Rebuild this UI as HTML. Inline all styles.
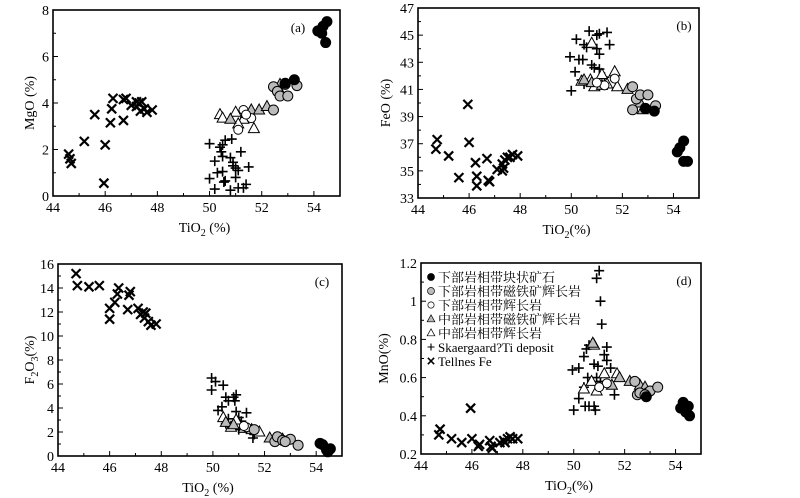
<!DOCTYPE html>
<html><head><meta charset="utf-8"><style>
html,body{margin:0;padding:0;background:#fff;}
svg{display:block;font-family:"Liberation Serif","Noto Serif CJK SC",serif;}
</style></head><body>
<svg id="chart" width="800" height="498" viewBox="0 0 800 498"></svg>
<script>
// ---- Panel (a) MgO ----
const aTellnes=[[44.6,1.8],[44.7,1.4],[44.65,1.6],[45.2,2.35],[45.6,3.5],[46,2.2],[45.95,0.55],[46.2,3.15],[46.25,3.75],[46.3,4.2],[46.7,3.25],[46.7,4.15],[46.8,4.2],[47,3.9],[47.2,3.85],[47.3,4.0],[47.4,4.05],[47.35,3.65],[47.5,3.75],[47.6,3.6],[47.8,3.7],[47.2,4.05]];
const aSkaer=[[50,2.25],[50.4,2.1],[50.5,2.2],[50.45,1.9],[50.6,2.4],[50.85,2.45],[50.2,1.5],[50.5,1.7],[50.8,1.65],[50.9,1.45],[51,1.2],[51.2,1.9],[51.5,1.25],[50.3,1.0],[50.5,1.05],[50.6,0.65],[50,0.75],[50.55,0.6],[51,0.8],[51.1,0.35],[51.3,0.35],[51.4,0.5],[50.2,0.3],[50.8,0.25],[51.1,1.1],[50.9,1.3]];
const aMidGab=[[50.4,3.5],[51,3.6],[51.3,3.3],[51.1,3.1],[51.7,2.9],[51.4,3.55],[50.5,3.35]];
const aMidMag=[[50.8,3.3],[51.6,3.7],[51.9,3.7],[52.2,3.85],[52.7,4.8],[52.7,4.5]];
const aLowGab=[[51.3,3.7],[51.1,2.85],[51.6,3.35],[51.4,3.5]];
const aLowMag=[[52.45,3.7],[52.45,4.7],[52.6,4.5],[52.7,4.3],[53,4.3],[53.35,4.75],[52.9,4.8]];
const aOre=[[52.9,4.85],[53.25,5.0],[54.15,7.1],[54.3,7.0],[54.35,7.3],[54.5,7.5],[54.45,6.6]];
const aYTicks=[0,2,4,6,8];
// ---- Panel (b) FeO ----
const bTellnes=[[44.7,36.6],[44.75,37.3],[45.2,36.1],[45.6,34.5],[45.95,39.9],[46,37.1],[46.25,35.6],[46.3,34.6],[46.3,33.9],[46.7,35.9],[46.75,34.3],[46.8,34.2],[47.1,35.1],[47.3,35.5],[47.35,35.2],[47.4,35.8],[47.5,36.0],[47.6,36.0],[47.7,36.2],[47.9,36.1],[47.3,35.0]];
const bSkaer=[[50.2,44.7],[50.7,45.3],[51,45],[51.1,45.1],[51.4,45.2],[51.5,44.3],[50.5,44.3],[50.6,44.1],[51,44],[51.1,43.6],[49.95,43.4],[50.3,43.2],[50.45,43.2],[50.8,42.8],[50.9,42.6],[50.15,42.3],[50,40.9],[50.4,41.7],[51.1,42.5],[51.3,41.9],[50.5,41.4]];
const bMidGab=[[50.8,44.4],[51.7,42.3],[50.4,41.6],[50.9,41.2],[51.2,42.1],[51.4,41.4],[51.8,41.2],[50.75,41.7]];
const bMidMag=[[50.5,41.7],[50.8,41.5],[51.2,41.3],[52.2,41],[52.7,40],[52.8,39.5]];
const bLowGab=[[51.7,41.8],[51.3,41.3],[51,41.5]];
const bLowMag=[[52.4,41.2],[52.55,40.3],[52.7,40.6],[53,40.6],[52.4,39.5],[53.3,39.8],[52.9,39.6]];
const bOre=[[52.9,39.6],[53.25,39.4],[54.15,36.4],[54.25,36.7],[54.4,37.2],[54.4,35.7],[54.55,35.7]];
const bYTicks=[33,35,37,39,41,43,45,47];
// ---- Panel (c) Fe2O3 ----
const cTellnes=[[44.7,15.2],[44.75,14.2],[45.2,14.1],[45.6,14.2],[46.0,11.4],[46.0,12.3],[46.2,12.8],[46.3,13.5],[46.35,14.0],[46.7,12.2],[46.75,13.4],[46.8,13.7],[47.1,12.3],[47.3,12.0],[47.35,11.5],[47.4,11.9],[47.5,11.2],[47.6,10.9],[47.8,11.0],[47.2,11.8]];
const cSkaer=[[49.95,6.5],[50.1,6.2],[50.4,5.9],[49.95,5.5],[50.5,4.9],[50.6,4.6],[50.8,4.9],[50.9,5.1],[50.85,4.6],[50.2,3.8],[50.35,4.1],[50.9,3.7],[51,3.2],[51.3,3.6],[50.6,3.1],[51.1,2.9],[51.6,1.8],[51.55,1.5],[50.5,2.7],[51,2.2]];
const cMidGab=[[50.4,3.2],[50.7,2.4],[51.0,2.7],[51.8,2.0],[50.9,3.0]];
const cMidMag=[[50.5,2.8],[50.8,2.6],[51.2,2.3],[51.5,2.2],[52.2,1.5],[52.7,1.4]];
const cLowGab=[[51.3,2.4],[51.2,2.5]];
const cLowMag=[[51.6,2.2],[52.4,1.2],[52.5,1.6],[52.7,1.3],[53,1.4],[53.3,0.9],[52.8,1.2]];
const cOre=[[54.15,1.05],[54.25,0.95],[54.4,0.5],[54.55,0.6],[54.45,0.35]];
const cYTicks=[0,2,4,6,8,10,12,14,16];
// ---- Panel (d) MnO ----
const dTellnes=[[44.7,0.3],[44.75,0.33],[45.2,0.28],[45.6,0.26],[45.95,0.44],[46,0.28],[46.25,0.24],[46.3,0.25],[46.7,0.27],[46.75,0.24],[46.8,0.23],[47.1,0.26],[47.3,0.26],[47.4,0.28],[47.5,0.29],[47.6,0.28],[47.8,0.28],[47.25,0.27]];
const dSkaer=[[50.9,1.12],[51,1.16],[51.05,1.0],[51.1,0.88],[50.5,0.75],[50.6,0.77],[51.3,0.76],[50.4,0.71],[51.2,0.72],[50.8,0.67],[50.95,0.66],[51.3,0.69],[49.95,0.64],[50.2,0.65],[51.45,0.65],[50.55,0.6],[50.4,0.55],[51.6,0.51],[50.2,0.49],[50,0.43],[50.45,0.45],[50.8,0.45],[50.85,0.43],[50.6,0.45],[50.9,0.6],[51.05,0.58]];
const dMidGab=[[50.8,0.77],[50.4,0.54],[50.9,0.53],[51.2,0.62],[51.7,0.62],[50.7,0.58]];
const dMidMag=[[50.75,0.78],[51.5,0.56],[51.8,0.6],[52.2,0.58],[52.6,0.56],[52.8,0.55]];
const dLowGab=[[51.3,0.57],[51.0,0.55]];
const dLowMag=[[52.4,0.58],[52.5,0.51],[52.6,0.52],[52.9,0.52],[53,0.53],[53.3,0.55],[52.8,0.51]];
const dOre=[[52.85,0.5],[54.2,0.44],[54.3,0.47],[54.4,0.42],[54.5,0.45],[54.55,0.4]];
const dYTicks=[0.2,0.4,0.6,0.8,1,1.2];
const xTicks=[44,46,48,50,52,54];
const legendLabels=["下部岩相带块状矿石","下部岩相带磁铁矿辉长岩","下部岩相带辉长岩","中部岩相带磁铁矿辉长岩","中部岩相带辉长岩","Skaergaard?Ti deposit","Tellnes Fe"];

const NS="http://www.w3.org/2000/svg";
const svg=document.getElementById('chart');
function mk(tag,attrs,parent){const e=document.createElementNS(NS,tag);for(const k in attrs)e.setAttribute(k,attrs[k]);(parent||svg).appendChild(e);return e;}

function marker(g,type,px,py){
  let e;
  if(type==='ore'){e=mk('circle',{cx:px,cy:py,r:5,fill:'#000',stroke:'#000','stroke-width':1},g);}
  else if(type==='lowMag'){e=mk('circle',{cx:px,cy:py,r:5,fill:'#bbb',stroke:'#000','stroke-width':1},g);}
  else if(type==='lowGab'){e=mk('circle',{cx:px,cy:py,r:4.5,fill:'#fff',stroke:'#000','stroke-width':1},g);}
  else if(type==='midMag'){e=mk('path',{d:`M${px},${py-6}L${px+5.5},${py+4}L${px-5.5},${py+4}Z`,fill:'#bbb',stroke:'#000','stroke-width':1},g);}
  else if(type==='midGab'){e=mk('path',{d:`M${px},${py-6}L${px+5.5},${py+4}L${px-5.5},${py+4}Z`,fill:'#fff',stroke:'#000','stroke-width':1},g);}
  else if(type==='skaer'){e=mk('path',{d:`M${px-5},${py}H${px+5}M${px},${py-5}V${py+5}`,stroke:'#000','stroke-width':1.6,fill:'none'},g);}
  else {e=mk('path',{d:`M${px-4.5},${py-4.5}L${px+4.5},${py+4.5}M${px+4.5},${py-4.5}L${px-4.5},${py+4.5}`,stroke:'#000','stroke-width':2.2,fill:'none'},g);}
  return e;
}

function panel(cfg){
  const g=mk('g',{});
  
  
  const {L,R,T,B,ymin,ymax}=cfg;
  const sx=v=>L+(v-44)/(55-44)*(R-L);
  const sy=v=>B-(v-ymin)/(ymax-ymin)*(B-T);
  for(let v=44;v<=55;v++){
    const major=xTicks.includes(v);
    const t=mk('line',{x1:sx(v),x2:sx(v),y1:B,y2:B-(major?5:3),stroke:'#000','stroke-width':1},g);
    
    
  }
  xTicks.forEach(v=>{
    const t=mk('text',{x:sx(v),y:B+16,'text-anchor':'middle','font-size':14},g);
    t.textContent=v;
    
    
  });
  const yt=cfg.yTicks;
  const step=yt[1]-yt[0];
  for(let i=0;i<yt.length;i++){
    const v=yt[i];
    const t=mk('line',{x1:L,x2:L+5,y1:sy(v),y2:sy(v),stroke:'#000','stroke-width':1},g);
    
    
    if(i<yt.length-1){const m=mk('line',{x1:L,x2:L+3,y1:sy(v+step/2),y2:sy(v+step/2),stroke:'#000','stroke-width':1},g);
      
      }
    const lb=mk('text',{x:L-4,y:sy(v)+5,'text-anchor':'end','font-size':14},g);
    lb.textContent=v;
    
    
  }
  const series=[['tellnes',cfg.tellnes],['skaer',cfg.skaer],['midGab',cfg.midGab],['midMag',cfg.midMag],['lowGab',cfg.lowGab],['lowMag',cfg.lowMag],['ore',cfg.ore]];
  series.forEach(([type,data])=>{
    data.forEach(p=>{
      const e=marker(g,type,sx(p[0]),sy(p[1]));
      
      
    });
  });
  const fr=mk('rect',{x:L,y:T,width:R-L,height:B-T,fill:'none',stroke:'#000','stroke-width':1.6},g);
  
  
  const pl=mk('text',{x:cfg.lx,y:T+22,'text-anchor':'middle','font-size':13},g);
  pl.textContent='('+cfg.id+')';
  
  
  const xt=mk('text',{x:(L+R)/2+8,y:B+36,'text-anchor':'middle','font-size':14},g);
  xt.innerHTML='TiO<tspan font-size="10" dy="4">2</tspan><tspan dy="-4">'+cfg.xsuffix+'</tspan>';
  
  
  const ytl=mk('text',{x:0,y:0,'text-anchor':'middle','font-size':14,transform:`translate(${cfg.ytx},${(T+B)/2}) rotate(-90)`},g);
  ytl.innerHTML=cfg.ytitle;
  
  
  return g;
}

panel({id:'a',lx:298,L:53,R:340,T:10,B:196,ymin:0,ymax:8,yTicks:aYTicks,tellnes:aTellnes,skaer:aSkaer,midGab:aMidGab,midMag:aMidMag,lowGab:aLowGab,lowMag:aLowMag,ore:aOre,xsuffix:' (%)',ytitle:'MgO (%)',ytx:34});
panel({id:'b',lx:684,L:418,R:699,T:8,B:198,ymin:33,ymax:47,yTicks:bYTicks,tellnes:bTellnes,skaer:bSkaer,midGab:bMidGab,midMag:bMidMag,lowGab:bLowGab,lowMag:bLowMag,ore:bOre,xsuffix:'(%)',ytitle:'FeO (%)',ytx:390});
panel({id:'c',lx:322,L:58,R:342,T:264,B:456,ymin:0,ymax:16,yTicks:cYTicks,tellnes:cTellnes,skaer:cSkaer,midGab:cMidGab,midMag:cMidMag,lowGab:cLowGab,lowMag:cLowMag,ore:cOre,xsuffix:' (%)',ytitle:'F<tspan font-size="10" dy="4">2</tspan><tspan dy="-4">O</tspan><tspan font-size="10" dy="4">3</tspan><tspan dy="-4">(%)</tspan>',ytx:34});
panel({id:'d',lx:684,L:421,R:701,T:263,B:454,ymin:0.2,ymax:1.2,yTicks:dYTicks,tellnes:dTellnes,skaer:dSkaer,midGab:dMidGab,midMag:dMidMag,lowGab:dLowGab,lowMag:dLowMag,ore:dOre,xsuffix:'(%)',ytitle:'MnO(%)',ytx:388});

const lg=mk('g',{});


const lgTypes=['ore','lowMag','lowGab','midMag','midGab','skaer','tellnes'];
legendLabels.forEach((lab,i)=>{
  const y=277+i*14;
  const g=mk('g',{},lg);
  
  
  const sc=mk('g',{transform:`translate(${431},${y}) scale(0.7) translate(${-431},${-y})`},g);
  marker(sc,lgTypes[i],431,y);
  const t=mk('text',{x:438,y:y+5,'font-size':13,'font-family':'"Liberation Serif","Noto Serif CJK SC",serif'},g);
  t.textContent=lab;
});
</script>
</body></html>
